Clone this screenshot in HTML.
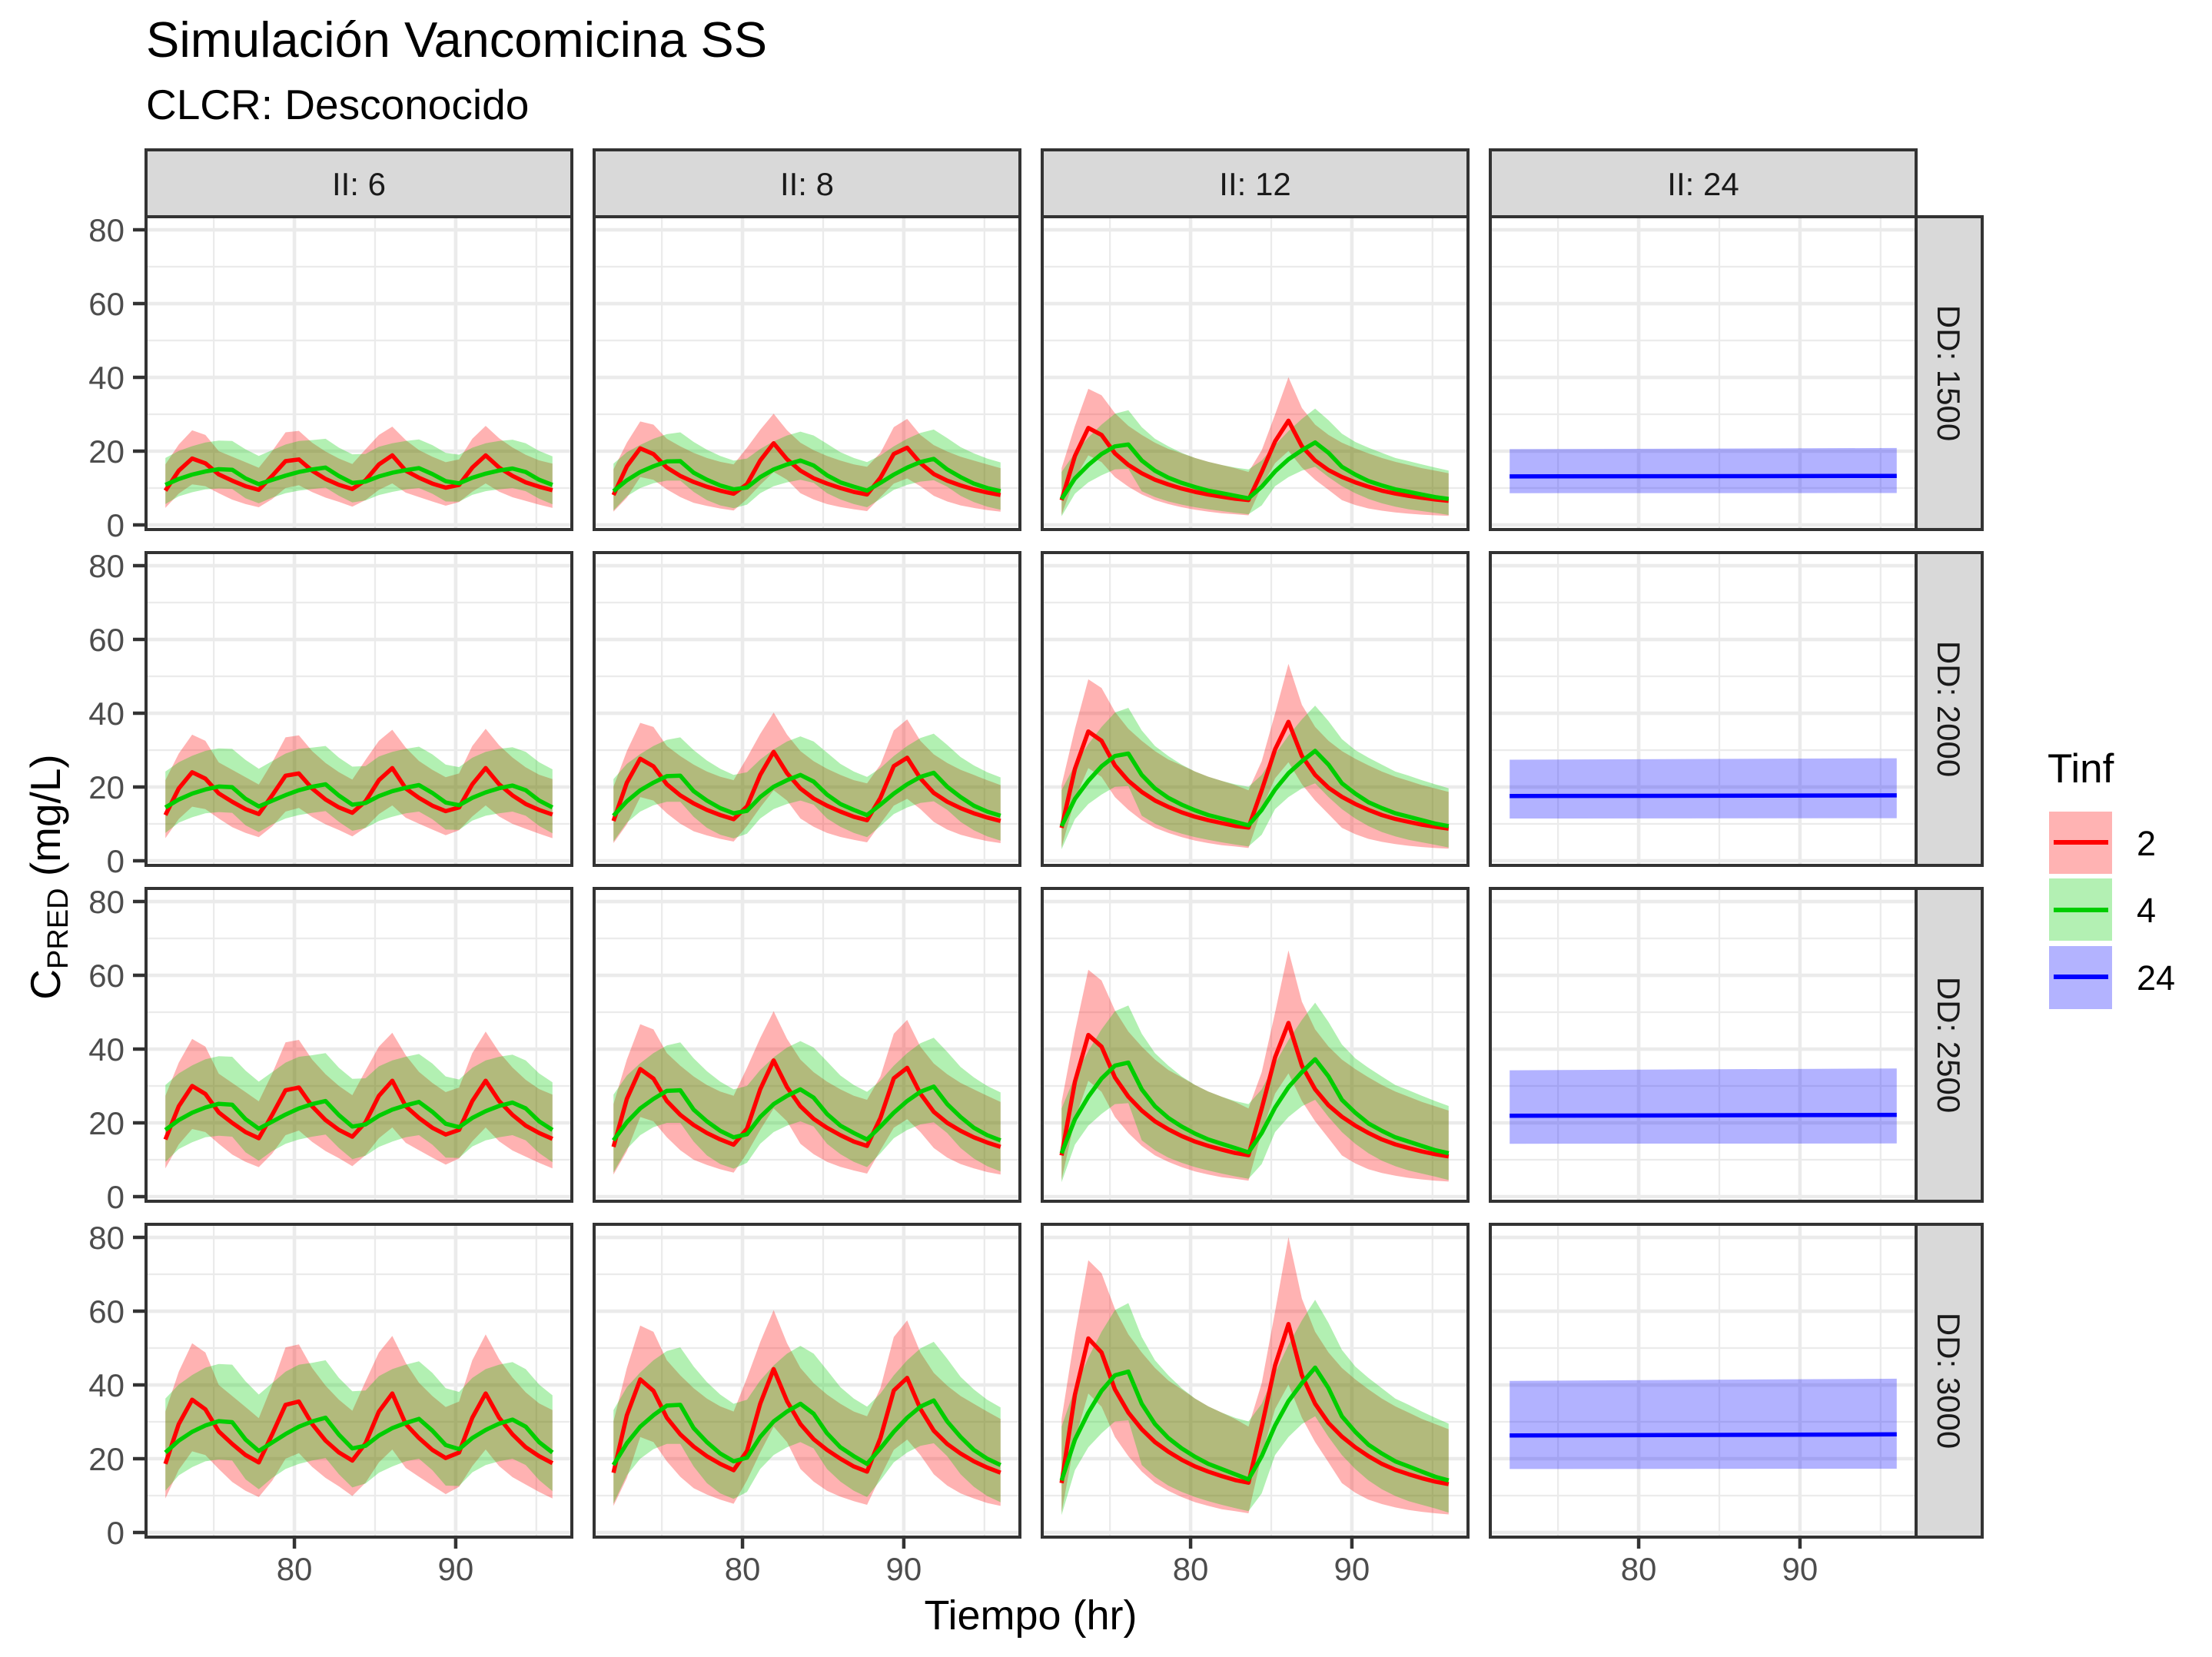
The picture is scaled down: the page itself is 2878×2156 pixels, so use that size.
<!DOCTYPE html>
<html><head><meta charset="utf-8"><title>Simulación Vancomicina SS</title>
<style>
html,body{margin:0;padding:0;background:#fff;}
svg{display:block;font-family:"Liberation Sans",Arial,sans-serif;}
</style></head>
<body>
<svg id="chart" width="2878" height="2156" viewBox="0 0 2878 2156" xmlns="http://www.w3.org/2000/svg">
<text x="190" y="74" font-size="65" fill="#000">Simulación Vancomicina SS</text>
<text x="190" y="155" font-size="55" fill="#000">CLCR: Desconocido</text>
<g id="panels"></g>
<text x="1341" y="2120" font-size="54" text-anchor="middle" fill="#000">Tiempo (hr)</text>
<text transform="translate(78,1141) rotate(-90)" font-size="55" text-anchor="middle" fill="#000">C<tspan font-size="38" dy="10">PRED</tspan><tspan dy="-10"> (mg/L)</tspan></text>
<g>
<text x="2664" y="1018" font-size="53" fill="#000">Tinf</text>
<g>
<rect x="2666" y="1056" width="82" height="81" fill="#ffb3b3"/>
<line x1="2672" y1="1096" x2="2743" y2="1096" stroke="#ff0000" stroke-width="6"/>
<text x="2780" y="1113" font-size="45" fill="#000">2</text></g>
<g>
<rect x="2666" y="1143" width="82" height="81" fill="#b3f0b3"/>
<line x1="2672" y1="1184" x2="2743" y2="1184" stroke="#00cd00" stroke-width="6"/>
<text x="2780" y="1200" font-size="45" fill="#000">4</text></g>
<g>
<rect x="2666" y="1231" width="82" height="82" fill="#b3b3ff"/>
<line x1="2672" y1="1271" x2="2743" y2="1271" stroke="#0000ff" stroke-width="6"/>
<text x="2780" y="1288" font-size="45" fill="#000">24</text></g>
</g>
</svg>
<script>
// ---- data (concentrations at DD 3000, mg/L) ----
const intervals = [6, 8, 12, 24];
const doses = [1500, 2000, 2500, 3000];
const refDose = 3000;
const times = [72,72.83,73.66,74.48,75.31,76.14,76.97,77.79,78.62,79.45,80.28,81.1,81.93,82.76,83.59,84.41,85.24,86.07,86.9,87.72,88.55,89.38,90.21,91.03,91.86,92.69,93.52,94.34,95.17,96];
const xTicks = [80, 90];
const yTicks = [0, 20, 40, 60, 80];

// II:6
const ii6RedMean = [18.6,29.4,36.0,33.4,27.4,24.0,21.0,19.0,26.6,34.6,35.5,29.4,24.9,21.7,19.5,24.2,32.8,37.7,29.4,25.6,22.4,20.2,21.7,31.1,37.7,31.1,26.6,23.1,20.7,18.8];
const ii6RedHi = [32.8,43.6,51.3,48.8,40.0,37.0,34.0,31.0,40.0,50.2,51.0,44.6,39.8,36.0,33.0,41.0,48.8,53.3,46.0,40.6,37.0,34.0,35.5,46.7,53.7,47.0,42.0,38.0,35.0,33.2];
const ii6RedLo = [9.2,17.0,22.0,21.0,17.2,13.7,11.3,9.6,14.0,20.0,21.5,17.8,14.8,12.5,9.9,13.5,19.0,22.5,17.5,15.1,12.7,10.4,12.4,18.0,22.5,18.0,15.0,13.0,11.0,9.2];
const ii6GreenMean = [21.7,24.9,27.3,29.0,30.2,29.9,25.2,22.1,24.4,26.7,28.7,30.1,31.1,26.5,22.8,23.5,26.3,28.3,29.7,30.8,27.6,23.7,22.6,25.6,27.8,29.5,30.6,28.7,24.5,21.7];
const ii6GreenHi = [36.3,40.1,42.7,44.7,45.7,45.5,41.0,37.4,40.5,43.6,45.5,46.0,46.7,41.9,38.3,38.5,42.4,44.3,45.5,46.4,43.3,39.1,38.1,41.9,44.3,45.5,46.2,44.3,40.1,37.2];
const ii6GreenLo = [11.3,15.5,17.7,19.3,19.8,19.5,14.4,11.7,14.8,17.2,18.6,19.5,20.2,15.8,12.2,13.3,16.2,17.9,19.3,20.0,16.9,12.7,12.6,16.3,18.3,19.3,20.0,18.3,14.2,11.2];

// II:8
const ii8RedMean = [16.2,31.8,41.5,38.4,31.1,26.6,23.3,20.7,18.6,16.9,22.1,34.9,44.3,35.6,29.4,25.3,22.4,20.0,17.9,16.5,25.6,38.5,41.9,33.5,27.6,24.0,21.4,19.3,17.6,16.2];
const ii8RedHi = [30.1,44.6,56.1,54.4,46.7,42.6,39.1,36.3,34.2,32.8,41.9,51.6,60.3,51.3,44.6,40.5,37.4,34.9,32.8,31.5,39.1,53.0,57.5,48.8,43.3,39.8,37.0,34.9,32.8,30.8];
const ii8RedLo = [7.2,14.8,25.9,24.5,19.3,15.1,12.0,10.3,8.9,7.8,14.1,21.7,28.7,24.5,17.2,13.8,11.3,9.7,8.5,7.5,15.1,22.4,25.2,21.0,15.8,12.7,10.6,9.2,8.0,7.2];
const ii8GreenMean = [18.3,24.2,28.7,31.8,34.4,34.6,28.3,24.5,21.4,19.3,20.3,25.9,30.1,32.8,34.9,32.2,26.9,23.1,20.7,18.6,22.8,27.3,31.1,34.1,35.8,30.1,25.9,22.4,20.0,18.3];
const ii8GreenHi = [33.2,39.4,43.4,46.7,49.2,50.2,45.0,40.8,37.4,34.9,36.0,41.2,45.3,48.5,50.6,48.5,44.0,39.4,36.3,34.1,37.7,42.6,46.7,49.9,51.7,47.1,42.2,38.8,36.0,33.9];
const ii8GreenLo = [7.8,15.5,20.0,22.6,24.0,24.0,17.9,13.4,10.6,9.1,11.0,17.2,21.0,23.1,24.5,22.8,17.2,13.8,11.3,9.6,14.1,19.0,21.7,23.5,24.2,20.7,15.8,12.4,9.9,8.2];

// II:12
const ii12RedMean = [13.4,37.4,52.6,48.8,38.8,32.5,28.0,24.5,21.9,19.7,17.9,16.5,15.3,14.2,13.5,28.7,45.3,56.5,42.6,34.9,29.7,26.0,23.1,20.7,18.6,17.0,15.8,14.7,13.8,13.1];
const ii12RedHi = [30.8,53.7,73.8,70.3,60.6,53.7,48.8,44.6,41.2,38.8,36.3,34.2,32.5,30.8,28.7,40.5,59.9,80.1,63.4,54.4,48.8,44.6,41.5,38.8,36.3,34.2,32.5,30.8,29.4,28.0];
const ii12RedLo = [5.4,25.2,37.7,34.1,25.9,20.7,16.5,13.4,11.3,9.6,8.2,7.2,6.3,5.8,5.2,21.0,33.5,40.1,31.1,24.5,19.0,13.4,10.8,8.9,7.7,6.8,6.1,5.6,5.2,4.9];
const ii12GreenMean = [14.1,25.2,32.5,38.4,42.6,43.6,34.9,29.4,25.6,22.8,20.5,18.6,17.2,15.8,14.4,20.7,29.0,35.6,40.5,44.7,39.1,31.5,27.3,23.8,21.4,19.3,17.9,16.5,15.1,14.1];
const ii12GreenHi = [28.7,39.1,47.4,54.4,60.3,62.2,53.0,46.7,42.6,39.1,36.3,34.2,32.5,31.1,30.1,34.9,43.3,50.9,57.5,63.1,56.8,49.5,45.0,41.9,39.1,36.3,34.6,32.8,31.1,29.5];
const ii12GreenLo = [4.7,16.9,23.1,26.9,30.1,30.4,18.3,15.1,12.7,11.0,9.6,8.5,7.5,6.6,5.8,10.6,21.0,25.9,29.4,31.5,25.9,21.0,17.2,14.1,11.7,9.9,8.5,7.5,6.5,5.4];

// II:24 (Tinf 24)
const blueTimes = [72, 96];
const blueMean = [26.3, 26.6];
const blueHi = [41.1, 41.7];
const blueLo = [17.2, 17.3];

const seriesByInterval = [
  [{c:'#ff0000',f:'#ff0000',m:ii6RedMean,h:ii6RedHi,l:ii6RedLo,t:times},{c:'#00cd00',f:'#00cd00',m:ii6GreenMean,h:ii6GreenHi,l:ii6GreenLo,t:times}],
  [{c:'#ff0000',f:'#ff0000',m:ii8RedMean,h:ii8RedHi,l:ii8RedLo,t:times},{c:'#00cd00',f:'#00cd00',m:ii8GreenMean,h:ii8GreenHi,l:ii8GreenLo,t:times}],
  [{c:'#ff0000',f:'#ff0000',m:ii12RedMean,h:ii12RedHi,l:ii12RedLo,t:times},{c:'#00cd00',f:'#00cd00',m:ii12GreenMean,h:ii12GreenHi,l:ii12GreenLo,t:times}],
  [{c:'#0000ff',f:'#0000ff',m:blueMean,h:blueHi,l:blueLo,t:blueTimes}]
];

// ---- layout ----
const NS = 'http://www.w3.org/2000/svg';
const colLeft = [190, 773, 1356, 1939];
const rowTop = [282, 719, 1156, 1593];
const PW = 554, PH = 407;
const X0 = 70.8, X1 = 97.2, Y0 = -1.25, Y1 = 83.55;
function sx(col, t){ return colLeft[col] + (t - X0) / (X1 - X0) * PW; }
function sy(row, v){ return rowTop[row] + PH - (v - Y0) / (Y1 - Y0) * PH; }
function mk(tag, attrs, parent){
  const e = document.createElementNS(NS, tag);
  for (const k in attrs) e.setAttribute(k, attrs[k]);
  parent.appendChild(e);
  return e;
}
const root = document.getElementById('panels');

for (let c = 0; c < 4; c++) {
  const strip = mk('g', {}, root);
  
  
  mk('rect', {x: colLeft[c], y: 195, width: PW, height: 87, fill: '#d9d9d9', stroke: '#333333', 'stroke-width': 4}, strip);
  const st = mk('text', {x: colLeft[c] + PW/2, y: 254, 'font-size': 42, 'text-anchor': 'middle', fill: '#1a1a1a'}, strip);
  st.textContent = 'II: ' + intervals[c];
}
for (let r = 0; r < 4; r++) {
  const strip = mk('g', {}, root);
  
  
  mk('rect', {x: 2493, y: rowTop[r], width: 86, height: PH, fill: '#d9d9d9', stroke: '#333333', 'stroke-width': 4}, strip);
  const st = mk('text', {transform: 'translate(2521,' + (rowTop[r] + PH/2) + ') rotate(90)', 'font-size': 42, 'text-anchor': 'middle', fill: '#1a1a1a'}, strip);
  st.textContent = 'DD: ' + doses[r];
}

for (let r = 0; r < 4; r++) {
  for (let c = 0; c < 4; c++) {
    const g = mk('g', {}, root);
    
    
    const L = colLeft[c], T = rowTop[r];
    mk('rect', {x: L, y: T, width: PW, height: PH, fill: '#ffffff'}, g);
    const clipId = 'clip' + r + c;
    const cp = mk('clipPath', {id: clipId}, g);
    mk('rect', {x: L, y: T, width: PW, height: PH}, cp);
    const inner = mk('g', {'clip-path': 'url(#' + clipId + ')'}, g);
    [10, 30, 50, 70].forEach(v => mk('line', {x1: L, x2: L + PW, y1: sy(r, v), y2: sy(r, v), stroke: '#ebebeb', 'stroke-width': 2.3}, inner));
    [75, 85, 95].forEach(t => mk('line', {x1: sx(c, t), x2: sx(c, t), y1: T, y2: T + PH, stroke: '#ebebeb', 'stroke-width': 2.3}, inner));
    yTicks.forEach(v => mk('line', {x1: L, x2: L + PW, y1: sy(r, v), y2: sy(r, v), stroke: '#ebebeb', 'stroke-width': 4.6}, inner));
    xTicks.forEach(t => mk('line', {x1: sx(c, t), x2: sx(c, t), y1: T, y2: T + PH, stroke: '#ebebeb', 'stroke-width': 4.6}, inner));
    const k = doses[r] / refDose;
    const ser = seriesByInterval[c];
    ser.forEach((s, si) => {
      let d = '';
      s.t.forEach((t, i) => { d += (i ? 'L' : 'M') + sx(c, t).toFixed(1) + ',' + sy(r, s.h[i] * k).toFixed(1); });
      for (let i = s.t.length - 1; i >= 0; i--) d += 'L' + sx(c, s.t[i]).toFixed(1) + ',' + sy(r, s.l[i] * k).toFixed(1);
      const rib = mk('path', {d: d + 'Z', fill: s.f, 'fill-opacity': 0.3}, inner);
      
      
    });
    ser.forEach((s, si) => {
      let d = '';
      s.t.forEach((t, i) => { d += (i ? 'L' : 'M') + sx(c, t).toFixed(1) + ',' + sy(r, s.m[i] * k).toFixed(1); });
      const ln = mk('path', {d: d, fill: 'none', stroke: s.c, 'stroke-width': 5.5, 'stroke-linejoin': 'round'}, inner);
      
      
    });
    mk('rect', {x: L, y: T, width: PW, height: PH, fill: 'none', stroke: '#333333', 'stroke-width': 4}, g);
    if (c === 0) {
      yTicks.forEach(v => {
        mk('line', {x1: 173, x2: L, y1: sy(r, v), y2: sy(r, v), stroke: '#333333', 'stroke-width': 4.5}, g);
        const tl = mk('text', {x: 162, y: sy(r, v) + 15, 'font-size': 42, 'text-anchor': 'end', fill: '#4d4d4d'}, g);
        
        
        tl.textContent = v;
      });
    }
    if (r === 3) {
      xTicks.forEach(t => {
        mk('line', {x1: sx(c, t), x2: sx(c, t), y1: T + PH, y2: T + PH + 15, stroke: '#333333', 'stroke-width': 4.5}, g);
        const tl = mk('text', {x: sx(c, t), y: 2056, 'font-size': 42, 'text-anchor': 'middle', fill: '#4d4d4d'}, g);
        
        
        tl.textContent = t;
      });
    }
  }
}
</script>
</body></html>
